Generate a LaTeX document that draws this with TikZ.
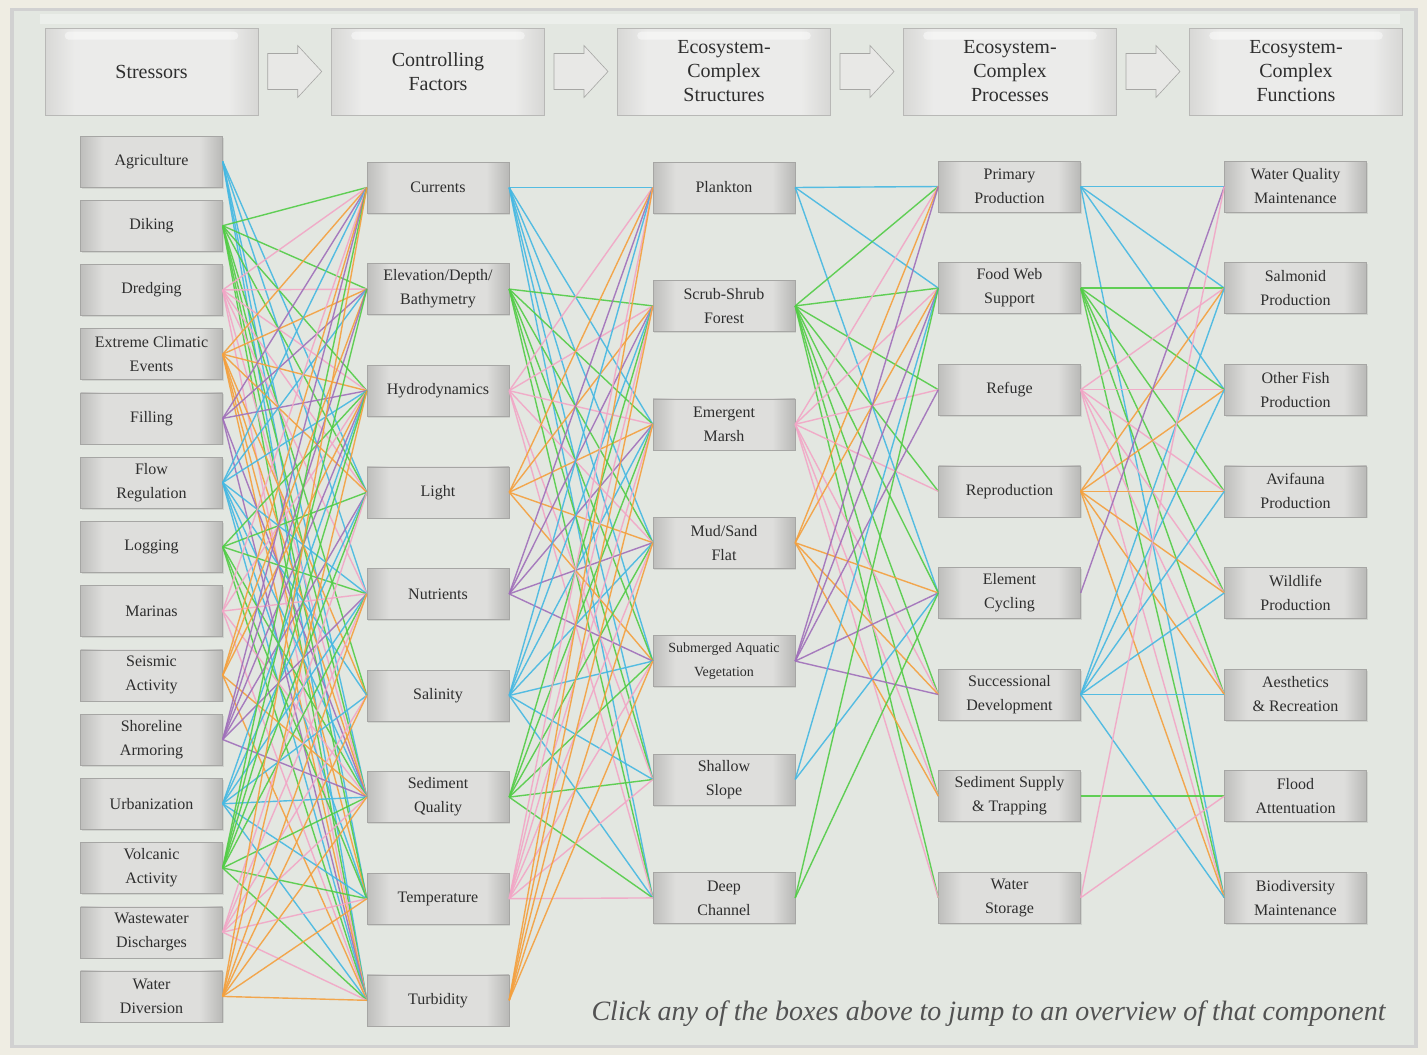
\documentclass[tikz,border=0pt]{standalone}
\usepackage{fontspec}
\setmainfont{Liberation Serif}
\usetikzlibrary{shadows,calc}
\definecolor{cb}{HTML}{45B8E2}
\definecolor{cg}{HTML}{52CC46}
\definecolor{cp}{HTML}{F2A6C6}
\definecolor{co}{HTML}{F4A03E}
\definecolor{cv}{HTML}{A070BA}
\colorlet{col0}{cb}\colorlet{col1}{cg}\colorlet{col2}{cp}\colorlet{col3}{co}\colorlet{col4}{cv}
\definecolor{outerbg}{HTML}{EFEDE3}
\definecolor{panelbg}{HTML}{E3E7E1}
\definecolor{boxL}{HTML}{BEBEBC}
\definecolor{boxM}{HTML}{DEDEDC}
\definecolor{boxR}{HTML}{B8B8B6}
\definecolor{txt}{HTML}{2E2E2E}
\pgfdeclarehorizontalshading{boxsh}{100bp}{color(0bp)=(boxL); color(25bp)=(boxL); color(33bp)=(boxM); color(67bp)=(boxM); color(75bp)=(boxR); color(100bp)=(boxR)}
\pgfdeclarehorizontalshading{hboxsh}{100bp}{color(0bp)=(boxM!80!boxL); color(25bp)=(boxM!80!boxL); color(32bp)=(boxM!60!white); color(68bp)=(boxM!60!white); color(75bp)=(boxM!80!boxR); color(100bp)=(boxM!80!boxR)}
\begin{document}
\begin{tikzpicture}[x=1pt,y=-1pt,
  cbox/.style={minimum width=142pt,minimum height=51pt,inner sep=0pt,align=center,
    font=\fontsize{16}{24}\selectfont,text=txt,
    shading=boxsh,draw=boxR!90!black,line width=0.4pt,
    drop shadow={shadow xshift=1pt,shadow yshift=-1.5pt,opacity=0.2}},
  hbox/.style={minimum width=213pt,minimum height=87pt,inner sep=0pt,align=center,
    font=\fontsize{20}{24}\selectfont,text=txt,
    shading=hboxsh,draw=boxR,line width=0.6pt},
  harrow/.style={fill=boxM!70!white,draw=boxR!90!black,line width=0.6pt,line join=miter},
  cline/.style={line width=1.4pt,opacity=0.9}]
% background
\fill[outerbg] (0,0) rectangle (1427,1055);
\fill[black!18] (10,8) rectangle (1418,1048);
\fill[panelbg] (14,11) rectangle (1414,1045);
\fill[white,opacity=0.35] (40,14) rectangle (1400,24);
% header
\node[hbox] (h1) at (151.5,71.5) {Stressors};
\node[hbox] (h2) at (438,71.5) {Controlling\\Factors};
\node[hbox] (h3) at (724,71.5) {Ecosystem-\\Complex\\Structures};
\node[hbox] (h4) at (1010,71.5) {Ecosystem-\\Complex\\Processes};
\node[hbox] (h5) at (1296,71.5) {Ecosystem-\\Complex\\Functions};
\foreach \h in {1,...,5}{
  \fill[white,opacity=0.45,rounded corners=4pt] ([xshift=20pt,yshift=-4pt]h\h.north west) rectangle ([xshift=-20pt,yshift=-12pt]h\h.north east);
}
\foreach \a/\b in {1/2,2/3,3/4,4/5}{
  \coordinate (ar\a) at ($ (h\a.east)!0.5!(h\b.west) $);
  \begin{scope}[shift={(ar\a)}]
    \draw[harrow] (-27,-18) -- (3,-18) -- (3,-26) -- (27,0) -- (3,26) -- (3,18) -- (-27,18) -- cycle;
  \end{scope}
}
% column positions
\foreach \i in {1,...,14} \coordinate (ps\i) at (151.5,{161.5+64.225*(\i-1)});
\foreach \i in {1,...,9} \coordinate (pc\i) at (438,{187.5+101.6*(\i-1)});
\foreach \i in {1,...,7} \coordinate (pe\i) at (724,{187.5+118.4*(\i-1)});
\foreach \i in {1,...,8} \coordinate (pp\i) at (1009.5,{186.5+101.6*(\i-1)});
\foreach \i in {1,...,8} \coordinate (pf\i) at (1295.5,{186.5+101.6*(\i-1)});
% nodes
\foreach \t [count=\i] in {Agriculture,Diking,Dredging,{Extreme Climatic\\Events},Filling,{Flow\\Regulation},Logging,Marinas,{Seismic\\Activity},{Shoreline\\Armoring},Urbanization,{Volcanic\\Activity},{Wastewater\\Discharges},{Water\\Diversion}}
  \node[cbox] (s\i) at (ps\i) {\t};
\foreach \t [count=\i] in {Currents,{Elevation/Depth/\\Bathymetry},Hydrodynamics,Light,Nutrients,Salinity,{Sediment\\Quality},Temperature,Turbidity}
  \node[cbox] (c\i) at (pc\i) {\t};
\foreach \t [count=\i] in {Plankton,{Scrub-Shrub\\Forest},{Emergent\\Marsh},{Mud/Sand\\Flat},{\fontsize{14}{24}\selectfont Submerged Aquatic\\\fontsize{14}{24}\selectfont Vegetation},{Shallow\\Slope},{Deep\\Channel}}
  \node[cbox] (e\i) at (pe\i) {\t};
\foreach \t [count=\i] in {{Primary\\Production},{Food Web\\Support},Refuge,Reproduction,{Element\\Cycling},{Successional\\Development},{Sediment Supply\\\& Trapping},{Water\\Storage}}
  \node[cbox] (p\i) at (pp\i) {\t};
\foreach \t [count=\i] in {{Water Quality\\Maintenance},{Salmonid\\Production},{Other Fish\\Production},{Avifauna\\Production},{Wildlife\\Production},{Aesthetics\\\& Recreation},{Flood\\Attentuation},{Biodiversity\\Maintenance}}
  \node[cbox] (f\i) at (pf\i) {\t};
% connectors
\foreach \i/\tl in {1/{4,5,7,8,9},2/{1,2,3,4,6,7,8,9},3/{1,2,3,4,5,7,9},4/{1,2,3,4,6,7,8,9},5/{1,2,3,7,9},6/{1,2,3,5,6,7,8,9},7/{3,4,5,7,8,9},8/{1,3,5,7,9},9/{1,2,3,7,9},10/{1,2,3,4,5,7},11/{3,4,5,6,7,8,9},12/{1,2,3,4,5,7,8,9},13/{4,5,6,7,8,9},14/{1,3,5,6,7,8,9}}{
  \pgfmathtruncatemacro\m{mod(\i-1,5)}
  \foreach \j in \tl {\draw[cline,col\m] (s\i.east) -- (c\j.west);}
}
\foreach \i/\tl in {1/{1,3,4,5,6,7},2/{2,3,4,5,6,7},3/{1,2,3,4,6,7},4/{1,2,3,4,5},5/{1,2,3,4,5},6/{1,2,3,4,5,6,7},7/{2,3,4,5,6,7},8/{1,2,3,4,5,6,7},9/{1,2,3,4,5}}{
  \pgfmathtruncatemacro\m{mod(\i-1,5)}
  \foreach \j in \tl {\draw[cline,col\m] (c\i.east) -- (e\j.west);}
}
\foreach \i/\tl in {1/{1,2,5},2/{1,2,3,4,5,6,7,8},3/{1,2,3,4,6,7,8},4/{1,2,5,6,7},5/{1,2,3,5,6},6/{2,5},7/{2,5}}{
  \pgfmathtruncatemacro\m{mod(\i-1,5)}
  \foreach \j in \tl {\draw[cline,col\m] (e\i.east) -- (p\j.west);}
}
\foreach \i/\tl in {1/{1,2,3,8},2/{2,3,4,5,6,8},3/{2,3,4,5,6,8},4/{2,3,4,5,6,8},5/{1},6/{2,3,4,5,6,8},7/{7},8/{1,7}}{
  \pgfmathtruncatemacro\m{mod(\i-1,5)}
  \foreach \j in \tl {\draw[cline,col\m] (p\i.east) -- (f\j.west);}
}
\node[anchor=base east,font=\fontsize{28}{30}\selectfont\itshape,text=black!68] (note) at (1389,1020) {Click any of the boxes above to jump to an overview of that component};
\end{tikzpicture}
\end{document}
